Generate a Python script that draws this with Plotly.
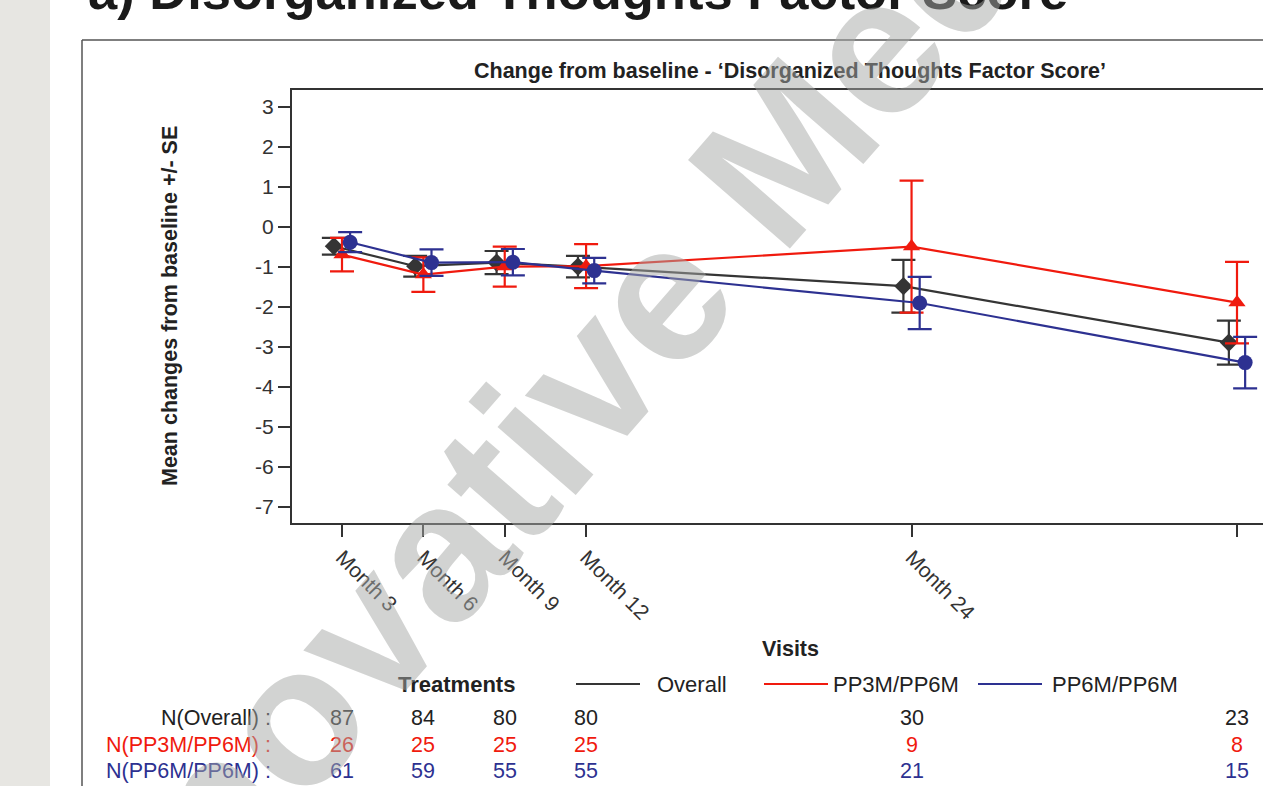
import plotly.graph_objects as go

# ---------------- data ----------------
visits = ["Month 3", "Month 6", "Month 9", "Month 12", "Month 24", "Month 36"]
months = [3, 6, 9, 12, 24, 36]
groups = ["Overall", "PP3M/PP6M", "PP6M/PP6M"]

mean_overall = [-0.48, -0.98, -0.89, -0.99, -1.48, -2.89]
se_overall = [0.21, 0.26, 0.29, 0.27, 0.66, 0.55]
mean_pp3m = [-0.69, -1.19, -0.99, -0.98, -0.49, -1.89]
se_pp3m = [0.42, 0.43, 0.50, 0.55, 1.65, 1.02]
mean_pp6m = [-0.38, -0.89, -0.88, -1.09, -1.90, -3.39]
se_pp6m = [0.25, 0.33, 0.33, 0.32, 0.655, 0.645]

n_overall = [87, 84, 80, 80, 30, 23]
n_pp3m = [26, 25, 25, 25, 9, 8]
n_pp6m = [61, 59, 55, 55, 21, 15]
n_labels = ["N(Overall) :", "N(PP3M/PP6M) :", "N(PP6M/PP6M) :"]

y_ticks = [3, 2, 1, 0, -1, -2, -3, -4, -5, -6, -7]
y_ticktext = [str(v) for v in y_ticks]

colors = ["#353535", "#f01a0e", "#2d3191"]
symbols = ["diamond", "triangle-up", "circle"]
msizes = [14, 15, 15]
dodge = [-0.3, 0.0, 0.3]

page_title = "a) Disorganized Thoughts Factor Score"
chart_title = "Change from baseline - \u2018Disorganized Thoughts Factor Score\u2019"
y_title = "Mean changes from baseline +/- SE"
x_title = "Visits"
legend_title = "Treatments"
watermark = "Innovative Medicine"

# ---------------- layout geometry ----------------
W, H = 1263, 786
L, R, T, B = 292, 1263, 90, 523
FONT = "Liberation Sans, Arial, sans-serif"


def X(px):
    return (px - L) / (R - L)


def Y(py):
    return (B - py) / (B - T)


fig = go.Figure()

means = [mean_overall, mean_pp3m, mean_pp6m]
ses = [se_overall, se_pp3m, se_pp6m]
for i, g in enumerate(groups):
    fig.add_trace(go.Scatter(
        x=[m + dodge[i] for m in months],
        y=means[i],
        name=g,
        mode="lines+markers",
        line=dict(color=colors[i], width=2.2),
        marker=dict(symbol=symbols[i], size=msizes[i], color=colors[i]),
        error_y=dict(type="data", array=ses[i], visible=True,
                     color=colors[i], thickness=2.2, width=12),
        showlegend=False,
    ))

shapes = []
annotations = []

# gray left band of the page
shapes.append(dict(type="rect", xref="paper", yref="paper",
                   x0=X(0), x1=X(50), y0=Y(H), y1=Y(0),
                   fillcolor="#e7e6e2", line=dict(width=0), layer="below"))
# outer box (top + left borders)
shapes.append(dict(type="line", xref="paper", yref="paper",
                   x0=X(82), x1=X(W + 5), y0=Y(40), y1=Y(40),
                   line=dict(color="#555555", width=1.5)))
shapes.append(dict(type="line", xref="paper", yref="paper",
                   x0=X(82), x1=X(82), y0=Y(40), y1=Y(H + 5),
                   line=dict(color="#555555", width=1.5)))

# page title (cut at the top)
annotations.append(dict(text=page_title, xref="paper", yref="paper",
                        x=X(86), y=Y(22), xanchor="left", yanchor="bottom",
                        showarrow=False,
                        font=dict(family=FONT, size=52.5, color="#1a1a1a", weight="bold")))
# chart title
annotations.append(dict(text=chart_title, xref="paper", yref="paper",
                        x=X(790), y=Y(71), xanchor="center", yanchor="middle",
                        showarrow=False,
                        font=dict(family=FONT, size=21.5, color="#222222", weight="bold")))
# y axis title
annotations.append(dict(text=y_title, xref="paper", yref="paper",
                        x=X(170), y=Y(306), xanchor="center", yanchor="middle",
                        textangle=-90, showarrow=False,
                        font=dict(family=FONT, size=21.5, color="#222222", weight="bold")))
# x axis title
annotations.append(dict(text=x_title, xref="paper", yref="paper",
                        x=X(790), y=Y(649), xanchor="center", yanchor="middle",
                        showarrow=False,
                        font=dict(family=FONT, size=21.5, color="#222222", weight="bold")))
# legend
annotations.append(dict(text=legend_title, xref="paper", yref="paper",
                        x=X(456), y=Y(684), xanchor="center", yanchor="middle",
                        showarrow=False,
                        font=dict(family=FONT, size=22, color="#222222", weight="bold")))
leg_line_x = [576, 764, 978]
leg_text_x = [655, 831, 1050]
for i, g in enumerate(groups):
    shapes.append(dict(type="line", xref="paper", yref="paper",
                       x0=X(leg_line_x[i]), x1=X(leg_line_x[i] + 64),
                       y0=Y(684), y1=Y(684),
                       line=dict(color=colors[i], width=2.2)))
    annotations.append(dict(text=g, xref="paper", yref="paper",
                            x=X(leg_text_x[i]), y=Y(684), xanchor="left", yanchor="middle",
                            showarrow=False,
                            font=dict(family=FONT, size=22, color="#222222")))

# N table
n_rows = [n_overall, n_pp3m, n_pp6m]
row_y = [718, 745, 771]
text_cols = ["#222222", colors[1], colors[2]]
for r in range(3):
    annotations.append(dict(text=n_labels[r], xref="paper", yref="paper",
                            x=X(273), y=Y(row_y[r]), xanchor="right", yanchor="middle",
                            showarrow=False,
                            font=dict(family=FONT, size=21.5, color=text_cols[r])))
    for j, m in enumerate(months):
        annotations.append(dict(text=str(n_rows[r][j]), xref="x", yref="paper",
                                x=m, y=Y(row_y[r]), xanchor="center", yanchor="middle",
                                showarrow=False,
                                font=dict(family=FONT, size=21.5, color=text_cols[r])))

# watermark
annotations.append(dict(text=watermark, xref="paper", yref="paper",
                        x=X(669), y=Y(284), xanchor="center", yanchor="middle",
                        textangle=-49, showarrow=False, opacity=0.5,
                        font=dict(family=FONT, size=196, color="#a6a8a6", weight="bold")))

fig.update_layout(
    width=W, height=H,
    margin=dict(l=L, r=W - R, t=T, b=H - B, pad=0),
    paper_bgcolor="white", plot_bgcolor="white",
    shapes=shapes, annotations=annotations,
    font=dict(family=FONT, size=21.5, color="#333333"),
)
fig.update_xaxes(
    range=[3 - 50 / 27.12, 36 + 26 / 27.12],
    tickmode="array", tickvals=months, ticktext=visits,
    tickangle=45, ticks="outside", ticklen=12, tickwidth=1.5, tickcolor="#333333",
    showline=True, linecolor="#333333", linewidth=2, mirror=True,
    showgrid=False, zeroline=False,
    tickfont=dict(family=FONT, size=21, color="#333333"),
)
fig.update_yaxes(
    range=[-7.4, 3.425],
    tickmode="array", tickvals=y_ticks, ticktext=y_ticktext,
    ticks="outside", ticklen=12, tickwidth=1.5, tickcolor="#333333",
    showline=True, linecolor="#333333", linewidth=2,
    showgrid=False, zeroline=False,
    tickfont=dict(family=FONT, size=21, color="#333333"),
)

fig.write_html("out.html")
